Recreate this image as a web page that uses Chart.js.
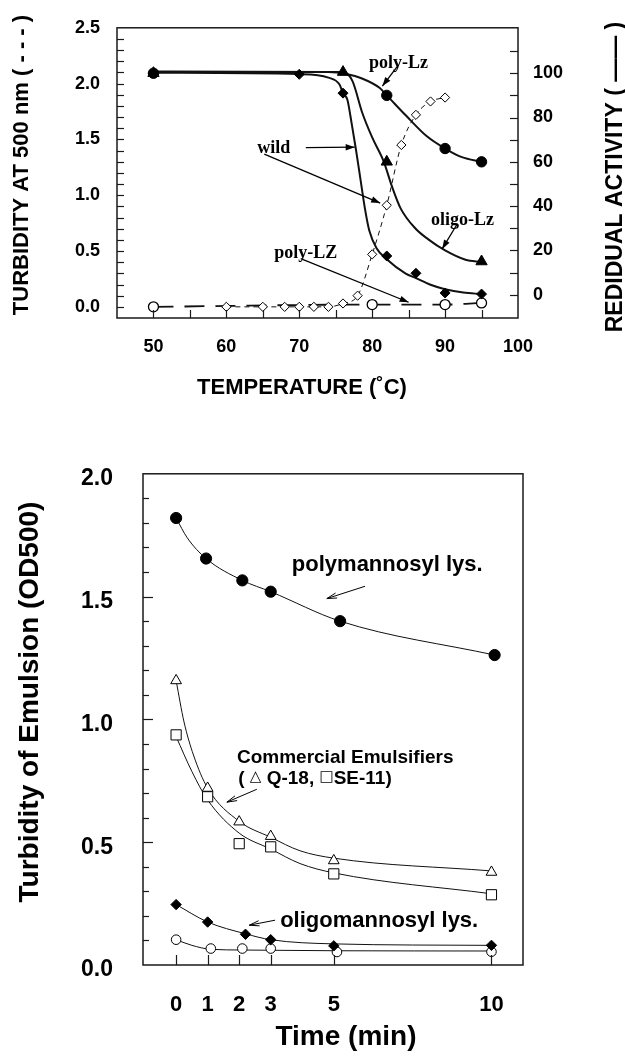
<!DOCTYPE html>
<html>
<head>
<meta charset="utf-8">
<script src="https://cdn.jsdelivr.net/npm/chart.js@4.4.0/dist/chart.umd.min.js"></script>
<style>
  html, body { margin: 0; padding: 0; background: #fff; }
  #wrap { position: relative; width: 625px; height: 1060px; overflow: hidden; }
  canvas { position: absolute; left: 0; }
  #heat { top: 0; }
  #emul { top: 430px; }
</style>
</head>
<body>
<div id="wrap">
  <canvas id="heat" width="625" height="430"></canvas>
  <canvas id="emul" width="625" height="630"></canvas>
</div>
<script>
// ---------- heat stability: residual activity (%) markers ----------
const polyLzTemp = [50, 82, 90, 95];
const polyLzAct = [100, 90, 66, 60];
const oligoLzTemp = [50, 76, 82, 95];
const oligoLzAct = [100, 100.5, 60, 15];
const wildTemp = [50, 70, 76, 82, 86, 90, 95];
const wildAct = [100, 99.5, 91, 17.5, 9.7, 0.8, 0.3];

// fitted activity curves
const polyLzFitTemp = [50, 74, 76.4, 78.6, 81, 82, 84.6, 87.5, 90, 92.3, 95];
const polyLzFitAct = [100.8, 100.5, 99.6, 97.6, 93.4, 90, 81, 71.5, 66, 62.1, 60];
const oligoLzFitTemp = [50, 74, 76, 77.3, 78.6, 80, 81.6, 82.7, 83.9, 85.9, 87.7, 90, 92.8, 95];
const oligoLzFitAct = [100.5, 100.6, 100.5, 96.4, 82.5, 71, 60, 49, 39, 30, 25, 20, 15.8, 14.8];
const wildFitTemp = [50, 70, 74, 75.5, 76, 76.6, 77.2, 77.8, 78.4, 79, 79.6, 80.6, 82, 84.6, 86, 88, 90, 92.5, 95];
const wildFitAct = [100.2, 99.6, 98, 95, 91, 88, 77, 65, 52, 39, 29, 21, 16, 9.5, 7.5, 4.5, 2.5, 1, 0.3];

// turbidity at 500 nm
const polyLZTurbTemp = [50, 80, 90, 95];
const polyLZTurb = [0.0, 0.02, 0.02, 0.035];
const wildTurbTemp = [60, 65, 68, 70, 72, 74, 76, 78, 80, 82, 84, 86, 88, 90];
const wildTurb = [0, 0, 0, 0, 0, 0, 0.03, 0.1, 0.47, 0.91, 1.45, 1.72, 1.84, 1.875];

// ---------- emulsion turbidity vs time ----------
const timeTicks = [0, 1, 2, 3, 5, 10];
const polyLysTime = [0, 0.95, 2.1, 3, 5.2, 10.1];
const polyLys = [1.82, 1.655, 1.566, 1.52, 1.40, 1.262];
const q18Time = [0, 1, 2, 3, 5, 10];
const q18 = [1.158, 0.72, 0.583, 0.524, 0.425, 0.378];
const se11Time = [0, 1, 2, 3, 5, 10];
const se11 = [0.937, 0.685, 0.494, 0.481, 0.371, 0.286];
const oligoLysTime = [0, 1, 2.2, 3, 5, 10];
const oligoLys = [0.246, 0.175, 0.125, 0.103, 0.078, 0.08];
const openCircTime = [0, 1.1, 2.1, 3, 5.1, 10];
const openCirc = [0.103, 0.067, 0.067, 0.067, 0.053, 0.054];

// fitted curves
const polyLysFitTime = [0, 0.35, 0.95, 2.1, 3, 5.2, 10.1];
const polyLysFit = [1.82, 1.74, 1.655, 1.566, 1.52, 1.40, 1.262];
const q18FitTime = [0, 0.25, 0.55, 1, 2, 3, 3.93, 5, 10];
const q18Fit = [1.158, 0.99, 0.855, 0.72, 0.585, 0.52, 0.465, 0.435, 0.383];
const se11FitTime = [0, 0.5, 1, 2, 3, 3.93, 5, 10];
const se11Fit = [0.93, 0.788, 0.672, 0.537, 0.472, 0.413, 0.375, 0.29];
const oligoLysFitTime = [0, 1, 2.2, 3, 5, 10];
const oligoLysFit = [0.246, 0.175, 0.127, 0.103, 0.086, 0.08];
const openCircFitTime = [0, 0.5, 1.1, 2.1, 3, 5.1, 10];
const openCircFit = [0.103, 0.08, 0.064, 0.061, 0.06, 0.058, 0.057];

const pts = (xs, ys) => xs.map((x, i) => ({ x, y: ys[i] }));
const isMultiple = (v, step) => Math.abs(v / step - Math.round(v / step)) < 1e-6;

Chart.defaults.color = '#000';
Chart.defaults.font.family = '"Liberation Sans", Arial, sans-serif';
Chart.defaults.font.weight = 'bold';

function markers(data, style, radius, filled, yAxisID, borderWidth) {
  return {
    data, yAxisID, showLine: false, order: 0,
    pointStyle: style, pointRadius: radius,
    pointBackgroundColor: filled ? '#000' : '#fff',
    pointBorderColor: '#000', pointBorderWidth: borderWidth || 1
  };
}
function curve(data, width, yAxisID, dash) {
  return {
    data, yAxisID, order: 1, pointRadius: 0, borderColor: '#111', borderWidth: width,
    borderDash: dash || [], cubicInterpolationMode: 'monotone', fill: false
  };
}

function arrow(ctx, x1, y1, x2, y2, len, half, filled) {
  ctx.beginPath(); ctx.moveTo(x1, y1); ctx.lineTo(x2, y2); ctx.stroke();
  const a = Math.atan2(y2 - y1, x2 - x1);
  const bx = x2 - len * Math.cos(a), by = y2 - len * Math.sin(a);
  const nx = -Math.sin(a) * half, ny = Math.cos(a) * half;
  ctx.beginPath();
  ctx.moveTo(bx + nx, by + ny); ctx.lineTo(x2, y2); ctx.lineTo(bx - nx, by - ny);
  if (filled) { ctx.closePath(); ctx.fill(); } else { ctx.stroke(); }
}

// box around the plot plus tick marks pointing inward
const frameTicks = {
  id: 'frameTicks',
  afterDatasetsDraw(chart, args, opts) {
    const { ctx, chartArea: a } = chart;
    ctx.save();
    ctx.strokeStyle = '#1a1a1a';
    ctx.lineWidth = 1.2;
    for (const m of opts.marks) {
      const sc = chart.scales[m.scale];
      for (const t of sc.ticks) {
        const v = t.value;
        if (!isMultiple(v, m.step) || v < m.from - 1e-9 || v > m.to + 1e-9) continue;
        const p = Math.round(sc.getPixelForValue(v)) + 0.5;
        const len = m.major && isMultiple(v, m.major) ? m.majorLen : m.len;
        ctx.beginPath();
        if (m.side === 'left') { ctx.moveTo(a.left, p); ctx.lineTo(a.left + len, p); }
        if (m.side === 'right') { ctx.moveTo(a.right, p); ctx.lineTo(a.right - len, p); }
        if (m.side === 'bottom') { ctx.moveTo(p, a.bottom); ctx.lineTo(p, a.bottom - len); }
        ctx.stroke();
      }
    }
    ctx.lineWidth = opts.frameWidth;
    ctx.strokeRect(a.left, a.top, a.right - a.left, a.bottom - a.top);
    ctx.restore();
  }
};

// labels, pointer arrows and axis titles
const notes = {
  id: 'notes',
  afterDraw(chart, args, opts) {
    const { ctx } = chart;
    const xs = chart.scales[opts.xScale], ys = chart.scales[opts.yScale];
    const px = v => xs.getPixelForValue(v), py = v => ys.getPixelForValue(v);
    ctx.save();
    ctx.fillStyle = '#000';
    ctx.strokeStyle = '#000';
    ctx.textBaseline = 'middle';
    for (const n of opts.texts) {
      let x = px(n.at[0]);
      const y = py(n.at[1]);
      const runs = n.runs || [[n.text, n.font]];
      if (n.align === 'center') {
        let w = 0;
        for (const [s, f] of runs) { ctx.font = f; w += ctx.measureText(s).width; }
        x -= w / 2;
      }
      ctx.textAlign = 'left';
      for (const [s, f, dy] of runs) {
        ctx.font = f;
        ctx.fillText(s, x, y + (dy || 0));
        x += ctx.measureText(s).width;
      }
    }
    ctx.lineWidth = opts.arrowWidth;
    for (const r of opts.arrows) {
      arrow(ctx, px(r.from[0]), py(r.from[1]), px(r.to[0]), py(r.to[1]), opts.headLen, opts.headHalf, opts.headFilled);
    }
    ctx.textAlign = 'center';
    for (const t of opts.titles) {
      ctx.save();
      ctx.translate(t.x, t.y);
      ctx.rotate(t.rot || 0);
      ctx.font = t.font;
      ctx.fillText(t.text, 0, 0);
      ctx.restore();
    }
    ctx.restore();
  }
};

const serif = 'bold 18px "Liberation Serif", "Times New Roman", serif';

new Chart(document.getElementById('heat'), {
  type: 'line',
  data: {
    datasets: [
      markers(pts(polyLzTemp, polyLzAct), 'circle', 5.2, true, 'yAct'),
      markers(pts(oligoLzTemp, oligoLzAct), 'triangle', 6.5, true, 'yAct'),
      markers(pts(wildTemp, wildAct), 'rectRot', 5, true, 'yAct'),
      markers(pts(polyLZTurbTemp, polyLZTurb), 'circle', 5, false, 'yTurb', 1.3),
      markers(pts(wildTurbTemp, wildTurb), 'rectRot', 4.6, false, 'yTurb', 1),
      curve(pts(polyLzFitTemp, polyLzFitAct), 2, 'yAct'),
      curve(pts(oligoLzFitTemp, oligoLzFitAct), 2, 'yAct'),
      curve(pts(wildFitTemp, wildFitAct), 2, 'yAct'),
      curve(pts(polyLZTurbTemp, polyLZTurb), 1.8, 'yTurb', [20, 11]),
      curve(pts(wildTurbTemp, wildTurb), 1, 'yTurb', [5, 4])
    ]
  },
  options: {
    responsive: false,
    animation: false,
    devicePixelRatio: 1,
    layout: { padding: { top: 18, left: 0, right: 0, bottom: 0 } },
    plugins: {
      legend: { display: false },
      tooltip: { enabled: false },
      frameTicks: {
        frameWidth: 1.5,
        marks: [
          { scale: 'x', side: 'bottom', step: 5, from: 50, to: 95, len: 8 },
          { scale: 'yTurb', side: 'left', step: 0.1, from: 0, to: 2.4, len: 7 },
          { scale: 'yAct', side: 'right', step: 10, from: 0, to: 110, len: 8 }
        ]
      },
      notes: {
        xScale: 'x', yScale: 'yAct',
        arrowWidth: 1.3, headLen: 9, headHalf: 3.2, headFilled: true,
        texts: [
          { text: 'poly-Lz', font: serif, at: [83.6, 104.4], align: 'center' },
          { text: 'wild', font: serif, at: [66.5, 65.9], align: 'center' },
          { text: 'oligo-Lz', font: serif, at: [92.4, 33.6], align: 'center' },
          { text: 'poly-LZ', font: serif, at: [70.9, 18.5], align: 'center' }
        ],
        arrows: [
          { from: [83.4, 102.9], to: [81.4, 94.2] },
          { from: [70.9, 66.4], to: [77.6, 66.6] },
          { from: [65.2, 63.5], to: [81.1, 41.4] },
          { from: [91.6, 31.6], to: [89.6, 20.7] },
          { from: [70.2, 16.3], to: [85, -3.4] }
        ],
        titles: [
          { text: 'TURBIDITY AT 500 nm ( - - - )', font: 'bold 22px "Liberation Sans", Arial, sans-serif', x: 22, y: 165, rot: -Math.PI / 2 },
          { text: 'REDIDUAL ACTIVITY ( —— )', font: 'bold 23px "Liberation Sans", Arial, sans-serif', x: 616, y: 177, rot: -Math.PI / 2 },
          { text: 'TEMPERATURE (˚C)', font: 'bold 22px "Liberation Sans", Arial, sans-serif', x: 302, y: 388 }
        ]
      }
    },
    scales: {
      x: {
        type: 'linear', min: 45, max: 100,
        grid: { display: false, drawTicks: false }, border: { display: false },
        ticks: {
          stepSize: 5, autoSkip: false, maxRotation: 0, padding: 18,
          font: { size: 18, weight: 'bold' },
          callback: v => (isMultiple(v, 10) && v >= 50) ? String(v) : ''
        },
        afterFit: s => { s.height = 112; }
      },
      yTurb: {
        type: 'linear', position: 'left', min: -0.1, max: 2.5,
        grid: { display: false, drawTicks: false }, border: { display: false },
        ticks: {
          stepSize: 0.1, autoSkip: false, padding: 17,
          font: { size: 18, weight: 'bold' },
          callback: v => (isMultiple(v, 0.5) && v > -0.01) ? v.toFixed(1) : ''
        },
        afterFit: s => { s.width = 117; }
      },
      yAct: {
        type: 'linear', position: 'right', min: -10.5, max: 120.5,
        grid: { display: false, drawTicks: false }, border: { display: false },
        ticks: {
          stepSize: 10, autoSkip: false, padding: 15,
          font: { size: 18, weight: 'bold' },
          callback: v => (isMultiple(v, 20) && v >= 0 && v <= 100) ? String(v) : ''
        },
        afterFit: s => { s.width = 107; }
      }
    }
  },
  plugins: [frameTicks, notes]
});

const sansB = size => 'bold ' + size + 'px "Liberation Sans", Arial, sans-serif';
const symFont = '15px "DejaVu Sans", sans-serif';

new Chart(document.getElementById('emul'), {
  type: 'line',
  data: {
    datasets: [
      markers(pts(polyLysTime, polyLys), 'circle', 5.6, true, 'y'),
      markers(pts(q18Time, q18), 'triangle', 6.2, false, 'y'),
      markers(pts(se11Time, se11), 'rect', 7.2, false, 'y'),
      markers(pts(oligoLysTime, oligoLys), 'rectRot', 5.2, true, 'y'),
      markers(pts(openCircTime, openCirc), 'circle', 4.8, false, 'y'),
      curve(pts(polyLysFitTime, polyLysFit), 1, 'y'),
      curve(pts(q18FitTime, q18Fit), 1, 'y'),
      curve(pts(se11FitTime, se11Fit), 1, 'y'),
      curve(pts(oligoLysFitTime, oligoLysFit), 1, 'y'),
      curve(pts(openCircFitTime, openCircFit), 1, 'y')
    ]
  },
  options: {
    responsive: false,
    animation: false,
    devicePixelRatio: 1,
    layout: { padding: { top: 31, left: 0, right: 102, bottom: 0 } },
    plugins: {
      legend: { display: false },
      tooltip: { enabled: false },
      frameTicks: {
        frameWidth: 1.5,
        marks: [
          { scale: 'x', side: 'bottom', step: 1, from: 0, to: 10, len: 10 },
          { scale: 'y', side: 'left', step: 0.1, from: 0.1, to: 1.9, len: 6, major: 0.5, majorLen: 10 }
        ]
      },
      notes: {
        xScale: 'x', yScale: 'y',
        arrowWidth: 1, headLen: 10, headHalf: 2.6, headFilled: false,
        texts: [
          { text: 'polymannosyl lys.', font: sansB(22), at: [3.67, 1.629] },
          { text: 'Commercial Emulsifiers', font: sansB(19), at: [1.93, 0.842] },
          { runs: [['( ', sansB(19)], ['△', symFont, -1], [' Q-18, ', sansB(19)], ['□', symFont, -1], ['SE-11)', sansB(19)]], at: [1.97, 0.759] },
          { text: 'oligomannosyl lys.', font: sansB(22), at: [3.3, 0.18] }
        ],
        arrows: [
          { from: [5.99, 1.542], to: [4.78, 1.492] },
          { from: [2.56, 0.7155], to: [1.61, 0.663] },
          { from: [3.14, 0.1825], to: [2.32, 0.162] }
        ],
        titles: [
          { text: 'Turbidity of Emulsion (OD500)', font: sansB(28), x: 30, y: 272, rot: -Math.PI / 2 },
          { text: 'Time (min)', font: sansB(28), x: 346, y: 607 }
        ]
      }
    },
    scales: {
      x: {
        type: 'linear', min: -1.05, max: 11,
        grid: { display: false, drawTicks: false }, border: { display: false },
        afterBuildTicks: s => { s.ticks = timeTicks.map(v => ({ value: v })); },
        ticks: { autoSkip: false, maxRotation: 0, padding: 27, font: { size: 22, weight: 'bold' } },
        afterFit: s => { s.height = 95; }
      },
      y: {
        type: 'linear', position: 'left', min: 0, max: 2,
        grid: { display: false, drawTicks: false }, border: { display: false },
        ticks: {
          stepSize: 0.1, autoSkip: false, padding: 30, labelOffset: 5,
          font: { size: 23, weight: 'bold' },
          callback: v => isMultiple(v, 0.5) ? v.toFixed(1) : ''
        },
        afterFit: s => { s.width = 143; }
      }
    }
  },
  plugins: [frameTicks, notes]
});
</script>
</body>
</html>
